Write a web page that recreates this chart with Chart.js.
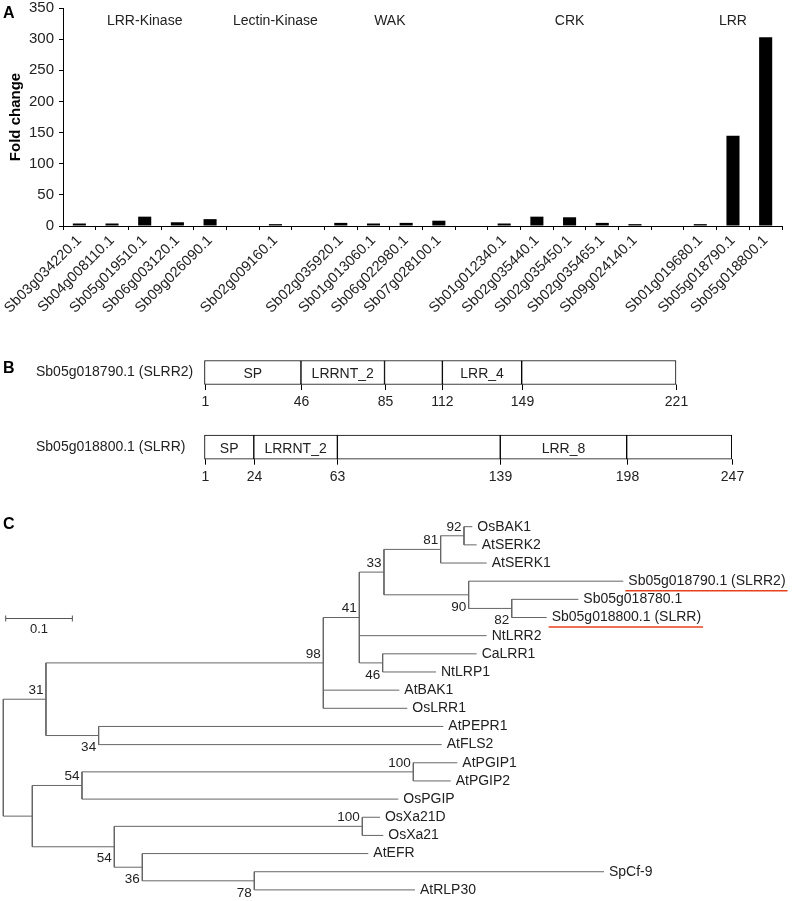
<!DOCTYPE html>
<html>
<head>
<meta charset="utf-8">
<script src="https://cdn.jsdelivr.net/npm/chart.js@4"></script>
<style>
  html, body { margin: 0; padding: 0; background: #fff; }
  body { width: 794px; height: 901px; position: relative; overflow: hidden; font-family: 'Liberation Sans', Arial, sans-serif; }
  canvas { position: absolute; left: 0; }
  .panel { position: absolute; font-weight: bold; font-size: 16px; line-height: 16px; color: #000; }
</style>
</head>
<body>
<canvas id="chartA" width="794" height="340" style="top:0"></canvas>
<canvas id="chartB" width="794" height="165" style="top:330px"></canvas>
<canvas id="chartC" width="794" height="411" style="top:490px"></canvas>
<div class="panel" style="left:3px;top:5px">A</div>
<div class="panel" style="left:3px;top:360px">B</div>
<div class="panel" style="left:3px;top:516px">C</div>
<script>
const FONT = "'Liberation Sans', Arial, sans-serif";
Chart.defaults.font.family = FONT;
Chart.defaults.color = '#222';
Chart.defaults.animation = false;

// ---- A: expression of receptor-like genes
const genes = ['Sb03g034220.1', 'Sb04g008110.1', 'Sb05g019510.1', 'Sb06g003120.1', 'Sb09g026090.1', '',
  'Sb02g009160.1', '',
  'Sb02g035920.1', 'Sb01g013060.1', 'Sb06g022980.1', 'Sb07g028100.1', '',
  'Sb01g012340.1', 'Sb02g035440.1', 'Sb02g035450.1', 'Sb02g035465.1', 'Sb09g024140.1', '',
  'Sb01g019680.1', 'Sb05g018790.1', 'Sb05g018800.1'];
const foldChange = [4, 4, 15, 6, 11, null,
  3, null,
  5, 4, 5, 8.5, null,
  4, 15, 14, 5, 3, null,
  3, 145, 303];
const groupNames = ['LRR-Kinase', 'Lectin-Kinase', 'WAK', 'CRK', 'LRR'];
const groupFirst = [0, 6, 8, 13, 19];
const groupLast = [4, 6, 11, 17, 21];

// ---- B: domain structure
const proteins = ['Sb05g018790.1 (SLRR2)', 'Sb05g018800.1 (SLRR)'];
const slrr2Bounds = [1, 46, 85, 112, 149, 221];
const slrrBounds = [1, 24, 63, 139, 198, 247];
const slrr2Domains = ['SP', 'LRRNT_2', '', 'LRR_4', ''];
const slrrDomains = ['SP', 'LRRNT_2', '', 'LRR_8', ''];

// ---- C: neighbour-joining tree (depth = distance from root)
const leafNames = ['OsBAK1', 'AtSERK2', 'AtSERK1', 'Sb05g018790.1 (SLRR2)', 'Sb05g018780.1',
  'Sb05g018800.1 (SLRR)', 'NtLRR2', 'CaLRR1', 'NtLRP1', 'AtBAK1', 'OsLRR1', 'AtPEPR1', 'AtFLS2',
  'AtPGIP1', 'AtPGIP2', 'OsPGIP', 'OsXa21D', 'OsXa21', 'AtEFR', 'SpCf-9', 'AtRLP30'];
const leafDepth = [0.7035, 0.710, 0.725, 0.930, 0.8625,
  0.815, 0.725, 0.710, 0.649, 0.594, 0.606, 0.660, 0.6576,
  0.681, 0.671, 0.5925, 0.565, 0.570, 0.5475, 0.901, 0.6175];
const nodeIds = ['root', 'n31', 'n98', 'n41', 'n33', 'n81', 'n92', 'n90', 'n82', 'n46', 'n34',
  'nlow', 'n54a', 'n100a', 'n54b', 'n100b', 'n36', 'n78'];
const nodeDepth = [0, 0.064, 0.480, 0.534, 0.571, 0.656, 0.691, 0.698, 0.7626, 0.569, 0.143,
  0.0435, 0.118, 0.615, 0.1665, 0.5385, 0.2085, 0.3765];
const nodeSupport = ['', '31', '98', '41', '33', '81', '92', '90', '82', '46', '34',
  '', '54', '100', '54', '100', '36', '78'];
const nodeChildren = [
  ['n31', 'nlow'], ['n98', 'n34'], ['n41', 9, 10], ['n33', 6, 'n46'], ['n81', 'n90'],
  ['n92', 2], [0, 1], [3, 'n82'], [4, 5], [7, 8], [11, 12],
  ['n54a', 'n54b'], ['n100a', 15], [13, 14], ['n100b', 'n36'], [16, 17], [18, 'n78'], [19, 20]
];
const highlighted = [3, 5];
const scaleBarLength = 0.1;

// ================= A =================
const groupLabels = {
  id: 'groupLabels',
  afterDraw(chart) {
    const { ctx, scales: { x } } = chart;
    ctx.save();
    ctx.font = '14px ' + FONT;
    ctx.fillStyle = '#222';
    ctx.textAlign = 'center';
    ctx.textBaseline = 'middle';
    groupNames.forEach((g, i) => {
      ctx.fillText(g, x.getPixelForValue((groupFirst[i] + groupLast[i]) / 2), 21);
    });
    ctx.restore();
  }
};

new Chart(document.getElementById('chartA'), {
  type: 'bar',
  data: {
    labels: genes,
    datasets: [{ data: foldChange, backgroundColor: '#000', categoryPercentage: 1, barPercentage: 0.4 }]
  },
  options: {
    responsive: false,
    layout: { padding: { top: 8, right: 12, left: 0, bottom: 0 } },
    plugins: { legend: { display: false }, tooltip: { enabled: false } },
    scales: {
      x: {
        grid: { offset: true, drawOnChartArea: false, tickLength: 4, color: '#000' },
        border: { color: '#000' },
        ticks: { autoSkip: false, maxRotation: 45, minRotation: 45, font: { size: 14.5 }, padding: 2 },
        afterFit: s => { s.height = 114; s.paddingLeft = 0; s.paddingRight = 0; }
      },
      y: {
        min: 0, max: 350,
        ticks: { stepSize: 50, font: { size: 15 }, padding: 5 },
        grid: { drawOnChartArea: false, tickLength: 4, color: '#000' },
        border: { color: '#000' },
        title: { display: true, text: 'Fold change', color: '#000', font: { size: 15, weight: 'bold' }, padding: { top: 7, bottom: 0 } },
        afterFit: s => { s.width = 63; s.paddingTop = 0; s.paddingBottom = 0; }
      }
    }
  },
  plugins: [groupLabels]
});

// ================= B =================
const rowBounds = [slrr2Bounds, slrrBounds];
const rowDomains = [slrr2Domains, slrrDomains];

const domainText = {
  id: 'domainText',
  afterDatasetsDraw(chart) {
    const { ctx, scales: { x, y } } = chart;
    ctx.save();
    ctx.font = '14px ' + FONT;
    ctx.fillStyle = '#222';
    ctx.strokeStyle = '#000';
    ctx.lineWidth = 1;
    ctx.textAlign = 'center';
    ctx.textBaseline = 'middle';
    rowBounds.forEach((b, r) => {
      const yc = y.getPixelForValue(r);
      const bottom = yc + 12;
      rowDomains[r].forEach((d, k) => {
        if (d) ctx.fillText(d, (x.getPixelForValue(b[k]) + x.getPixelForValue(b[k + 1])) / 2, yc + 1.5);
      });
      b.forEach(v => {
        const px = Math.round(x.getPixelForValue(v)) + 0.5;
        ctx.beginPath();
        ctx.moveTo(px, bottom);
        ctx.lineTo(px, bottom + 5.5);
        ctx.stroke();
        ctx.fillText(String(v), px, bottom + 18);
      });
    });
    ctx.restore();
  }
};

new Chart(document.getElementById('chartB'), {
  type: 'bar',
  data: {
    labels: proteins,
    datasets: slrr2Domains.map((_, k) => ({
      data: rowBounds.map(b => [b[k], b[k + 1]]),
      backgroundColor: '#fff',
      borderColor: '#000',
      borderWidth: 1,
      borderSkipped: false,
      grouped: false,
      barThickness: 24
    }))
  },
  options: {
    indexAxis: 'y',
    responsive: false,
    layout: { padding: { left: 36, top: 5.15, right: 13, bottom: 10.45 } },
    plugins: { legend: { display: false }, tooltip: { enabled: false } },
    scales: {
      x: { display: false, min: 0, max: 270 },
      y: {
        grid: { display: false },
        border: { display: false },
        ticks: { crossAlign: 'far', font: { size: 14 }, color: '#222' },
        afterFit: s => { s.width = 166.36; s.paddingTop = 0; s.paddingBottom = 0; }
      }
    }
  },
  plugins: [domainText]
});

// ================= C =================
const nodeIndex = {};
nodeIds.forEach((id, i) => { nodeIndex[id] = i; });
const nodeY = [];
const nodeBelow = [];
const segments = [];

function layout(ref) {
  if (typeof ref === 'number') return { x: leafDepth[ref], y: ref };
  const i = nodeIndex[ref];
  const kids = nodeChildren[i].map(layout);
  nodeChildren[i].forEach((c, k) => {
    if (typeof c !== 'number') nodeBelow[nodeIndex[c]] = k === nodeChildren[i].length - 1;
  });
  const top = kids[0].y, bot = kids[kids.length - 1].y;
  segments.push([{ x: nodeDepth[i], y: top }, { x: nodeDepth[i], y: bot }]);
  kids.forEach(k => segments.push([{ x: nodeDepth[i], y: k.y }, { x: k.x, y: k.y }]));
  nodeY[i] = (top + bot) / 2;
  return { x: nodeDepth[i], y: nodeY[i] };
}
layout('root');

const treeText = {
  id: 'treeText',
  afterDatasetsDraw(chart) {
    const { ctx, scales: { x, y } } = chart;
    ctx.save();
    ctx.textBaseline = 'middle';
    ctx.fillStyle = '#222';
    ctx.font = '14px ' + FONT;
    ctx.textAlign = 'left';
    leafNames.forEach((n, i) => {
      const px = x.getPixelForValue(leafDepth[i]) + 5;
      const py = y.getPixelForValue(i);
      ctx.fillText(n, px, py);
      if (highlighted.includes(i)) {
        const w = ctx.measureText(n).width;
        ctx.strokeStyle = '#e8401c';
        ctx.lineWidth = 1.5;
        ctx.beginPath();
        ctx.moveTo(px - 3, py + 9.5);
        ctx.lineTo(px + w + 2, py + 9.5);
        ctx.stroke();
      }
    });
    ctx.font = '13.5px ' + FONT;
    ctx.textAlign = 'right';
    nodeIds.forEach((id, i) => {
      if (!nodeSupport[i]) return;
      const py = y.getPixelForValue(nodeY[i]) + (nodeBelow[i] ? 12 : -9);
      ctx.fillText(nodeSupport[i], x.getPixelForValue(nodeDepth[i]) - 2.5, py);
    });
    // scale bar
    const x0 = x.getPixelForValue(0.0036), x1 = x.getPixelForValue(0.0036 + scaleBarLength);
    const yb = Math.round(y.getPixelForValue(5)) + 0.5;
    ctx.strokeStyle = '#555';
    ctx.lineWidth = 1;
    ctx.beginPath();
    ctx.moveTo(x0, yb); ctx.lineTo(x1, yb);
    ctx.moveTo(x0, yb - 3); ctx.lineTo(x0, yb + 3);
    ctx.moveTo(x1, yb - 3); ctx.lineTo(x1, yb + 3);
    ctx.stroke();
    ctx.font = '13px ' + FONT;
    ctx.textAlign = 'center';
    ctx.fillText(String(scaleBarLength), (x0 + x1) / 2, yb + 11);
    ctx.restore();
  }
};

new Chart(document.getElementById('chartC'), {
  type: 'scatter',
  data: {
    datasets: segments.map(seg => ({
      data: seg,
      showLine: true,
      borderColor: '#666',
      borderWidth: 1,
      pointRadius: 0,
      clip: false
    }))
  },
  options: {
    responsive: false,
    plugins: { legend: { display: false }, tooltip: { enabled: false } },
    scales: {
      x: { display: false, min: -0.00495, max: 1.186 },
      y: { display: false, reverse: true, min: -2.021, max: 20.611 }
    }
  },
  plugins: [treeText]
});
</script>
</body>
</html>
